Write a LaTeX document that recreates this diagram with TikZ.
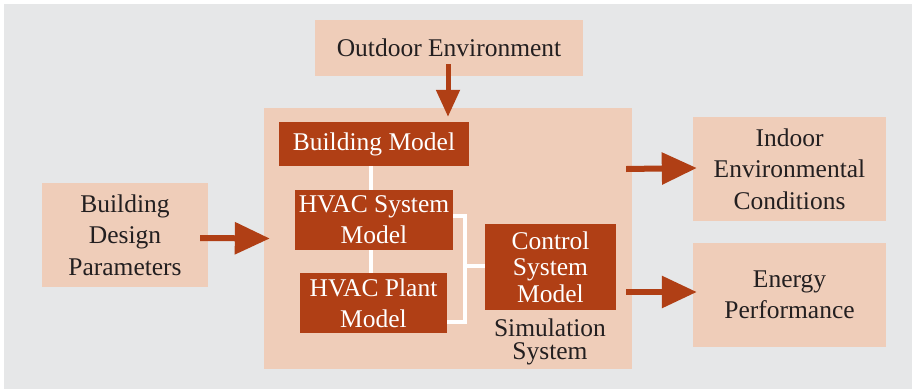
\documentclass[tikz,border=0pt]{standalone}
\usepackage{fontspec}
\setmainfont{Liberation Serif}
\usetikzlibrary{arrows.meta}
\definecolor{bggray}{HTML}{E6E7E8}
\definecolor{lightbox}{HTML}{EFCDB9}
\definecolor{darkbox}{HTML}{B03F15}
\definecolor{txtdark}{HTML}{231F20}
\begin{document}
\begin{tikzpicture}[x=1pt,y=-1pt,
  lbox/.style={rectangle,fill=lightbox,inner sep=0pt,align=center,text=txtdark,
    font=\fontsize{25.5}{31.5}\selectfont},
  dbox/.style={rectangle,fill=darkbox,inner sep=0pt,align=center,text=white,
    font=\fontsize{25.5}{31}\selectfont},
  bigarrow/.style={draw=darkbox,line width=6pt,-{Triangle[length=35pt,width=31pt]}},
  smallarrow/.style={draw=darkbox,line width=5pt,-{Triangle[length=27pt,width=23pt]}},
  wline/.style={draw=white,line width=4.5pt}]
\useasboundingbox (0,0) rectangle (912,389);
\fill[bggray] (4,4) rectangle (912,389);
% boxes
\node[lbox,minimum width=268pt,minimum height=56pt] (outdoor) at (449,48) {Outdoor Environment};
\node[lbox,minimum width=368pt,minimum height=261pt] (sim) at (448,238.5) {};
\node[lbox,minimum width=166pt,minimum height=104pt] (bdp) at (125,235) {Building\\Design\\Parameters};
\node[lbox,minimum width=193pt,minimum height=104pt] (indoor) at (789.5,169) {Indoor\\Environmental\\Conditions};
\node[lbox,minimum width=193pt,minimum height=104pt] (energy) at (789.5,295) {Energy\\Performance};
% inner models
\coordinate (bx) at (465,266);
\node[dbox,minimum width=190pt,minimum height=44pt] (bm) at (374,144) {Building Model};
\node[dbox,minimum width=158pt,minimum height=60pt] (hsm) at (374,220) {HVAC System\\Model};
\node[dbox,minimum width=147pt,minimum height=60pt] (hpm) at (373.5,303) {HVAC Plant\\Model};
\node[dbox,minimum width=131pt,minimum height=86pt,font=\fontsize{25.5}{26.5}\selectfont] (csm) at (550.5,267) {Control\\System\\Model};
\node[text=txtdark,align=center,inner sep=0pt,font=\fontsize{25.5}{23}\selectfont] (simlabel) at (550,342) {Simulation\\System};
% white connectors
\draw[wline] ([xshift=-3pt]bm.south) -- ([xshift=-3pt]hsm.north);
\draw[wline] ([xshift=-3pt]hsm.south) -- ([xshift=-2.5pt]hpm.north);
\draw[wline] ([yshift=4pt]hsm.east) -| (bx) |- ([yshift=-19pt]hpm.east);
\draw[wline] (bx) -- (csm.west |- bx);
% arrows
\draw[smallarrow] ([yshift=12pt,xshift=-1pt]outdoor.south) -- ([yshift=-9pt]sim.north);
\draw[bigarrow] ([xshift=-8pt,yshift=-3pt]bdp.east) -- ([xshift=6pt]sim.west);
\draw[bigarrow] ([xshift=-6pt]sim.east |- indoor.west) -- ([xshift=4pt,yshift=1pt]indoor.west);
\draw[bigarrow] ([xshift=-6pt,yshift=3pt]sim.east |- energy.west) -- ([xshift=4pt,yshift=3pt]energy.west);
\end{tikzpicture}
\end{document}
